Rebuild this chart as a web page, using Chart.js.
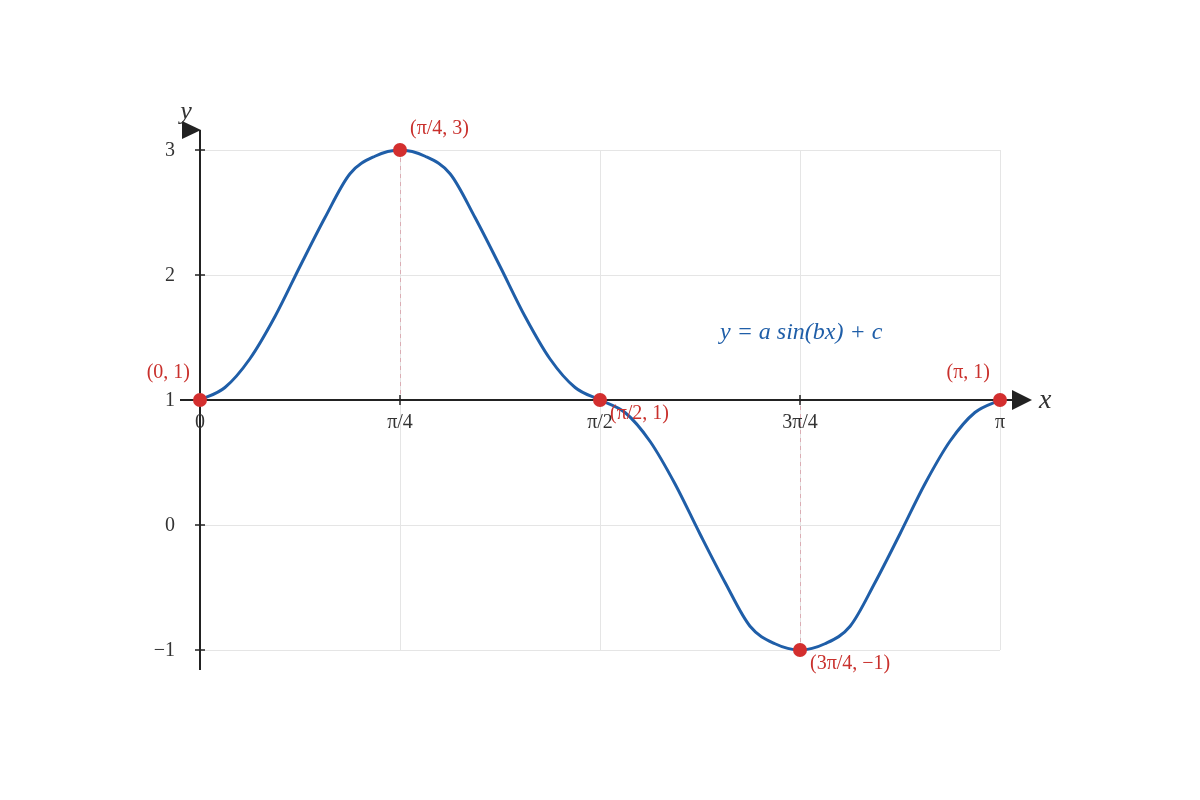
<!DOCTYPE html>
<html>
<head>
<meta charset="utf-8">
<script src="https://cdn.jsdelivr.net/npm/chart.js@4.4.1/dist/chart.umd.min.js"></script>
<style>
  html, body { margin: 0; padding: 0; background: #fff; }
  #wrap { width: 1200px; height: 800px; }
</style>
</head>
<body>
<div id="wrap"><canvas id="chart" width="1200" height="800"></canvas></div>
<script>
const PI = Math.PI;

// curve, one sample every pi/32
const curveX = [0, 0.098, 0.196, 0.295, 0.393, 0.491, 0.589, 0.687, 0.785,
                0.884, 0.982, 1.080, 1.178, 1.276, 1.374, 1.473, 1.571,
                1.669, 1.767, 1.865, 1.963, 2.062, 2.160, 2.258, 2.356,
                2.454, 2.553, 2.651, 2.749, 2.847, 2.945, 3.043, 3.142];
const curveY = [1, 1.10, 1.33, 1.67, 2.07, 2.46, 2.81, 2.95, 3,
                2.95, 2.81, 2.46, 2.07, 1.67, 1.33, 1.10, 1,
                0.90, 0.67, 0.33, -0.07, -0.46, -0.81, -0.95, -1,
                -0.95, -0.81, -0.46, -0.07, 0.33, 0.67, 0.90, 1];

// marked points
const keyX = [0, PI / 4, PI / 2, 3 * PI / 4, PI];
const keyY = [1, 3, 1, -1, 1];
const keyLabels = ['(0, 1)', '(π/4, 3)', '(π/2, 1)', '(3π/4, −1)', '(π, 1)'];

// axis ticks
const xTickValues = [0, PI / 4, PI / 2, 3 * PI / 4, PI];
const xTickLabels = ['0', 'π/4', 'π/2', '3π/4', 'π'];
const yTickValues = [-1, 0, 1, 2, 3];
const yTickLabels = ['−1', '0', '1', '2', '3'];

const equationText = 'y = a sin(bx) + c';

const SERIF = '"Liberation Serif", "DejaVu Serif", serif';
const BLUE = '#1f5ea8';
const RED = '#d32f2f';
const LABEL_RED = '#c9302c';
const AXIS = '#222';

// where each point label sits relative to its point
const labelPlacement = [
    { dx: -10, dy: -27, align: 'right' },
    { dx: 10, dy: -21, align: 'left' },
    { dx: 10, dy: 14, align: 'left' },
    { dx: 10, dy: 14, align: 'left' },
    { dx: -10, dy: -27, align: 'right' }
];

const axesPlugin = {
    id: 'mathAxes',
    beforeDatasetsDraw(chart) {
        const { ctx, chartArea: a, scales: { x, y } } = chart;
        const y1 = y.getPixelForValue(1);
        const x0 = x.getPixelForValue(0);
        ctx.save();

        // grid
        ctx.strokeStyle = '#e5e5e5';
        ctx.lineWidth = 1;
        yTickValues.forEach(v => {
            if (v === 1) return;
            const py = Math.round(y.getPixelForValue(v)) + 0.5;
            ctx.beginPath();
            ctx.moveTo(a.left, py);
            ctx.lineTo(a.right, py);
            ctx.stroke();
        });
        xTickValues.forEach(v => {
            if (v === 0) return;
            const px = Math.round(x.getPixelForValue(v)) + 0.5;
            ctx.beginPath();
            ctx.moveTo(px, a.top);
            ctx.lineTo(px, a.bottom);
            ctx.stroke();
        });

        // dashed drops from the peak and trough
        ctx.strokeStyle = 'rgba(200, 70, 90, 0.35)';
        ctx.setLineDash([4, 4]);
        [1, 3].forEach(i => {
            const px = Math.round(x.getPixelForValue(keyX[i])) + 0.5;
            ctx.beginPath();
            ctx.moveTo(px, y.getPixelForValue(keyY[i]));
            ctx.lineTo(px, y1);
            ctx.stroke();
        });
        ctx.setLineDash([]);

        // axes
        ctx.strokeStyle = AXIS;
        ctx.fillStyle = AXIS;
        ctx.lineWidth = 2;
        ctx.beginPath();
        ctx.moveTo(a.left - 20, y1);
        ctx.lineTo(a.right + 14, y1);
        ctx.moveTo(x0, a.bottom + 20);
        ctx.lineTo(x0, a.top - 20);
        ctx.stroke();

        ctx.beginPath();
        ctx.moveTo(a.right + 12, y1 - 10);
        ctx.lineTo(a.right + 32, y1);
        ctx.lineTo(a.right + 12, y1 + 10);
        ctx.closePath();
        ctx.fill();

        ctx.beginPath();
        ctx.moveTo(x0 - 18, a.top - 29);
        ctx.lineTo(x0 + 1, a.top - 20);
        ctx.lineTo(x0 - 18, a.top - 11);
        ctx.closePath();
        ctx.fill();

        // tick marks
        ctx.lineWidth = 1.5;
        ctx.beginPath();
        yTickValues.forEach(v => {
            const py = y.getPixelForValue(v);
            ctx.moveTo(x0 - 5, py);
            ctx.lineTo(x0 + 5, py);
        });
        xTickValues.slice(1, -1).forEach(v => {
            const px = x.getPixelForValue(v);
            ctx.moveTo(px, y1 - 5);
            ctx.lineTo(px, y1 + 5);
        });
        ctx.stroke();

        // tick labels
        ctx.fillStyle = '#333';
        ctx.font = '20px ' + SERIF;
        ctx.textBaseline = 'middle';
        ctx.textAlign = 'right';
        yTickValues.forEach((v, i) => {
            ctx.fillText(yTickLabels[i], x0 - 25, y.getPixelForValue(v) + 1);
        });
        ctx.textAlign = 'center';
        xTickValues.forEach((v, i) => {
            ctx.fillText(xTickLabels[i], x.getPixelForValue(v), y1 + 23);
        });

        // axis names
        ctx.fillStyle = '#333';
        ctx.font = 'italic 28px ' + SERIF;
        ctx.textAlign = 'left';
        ctx.fillText('x', a.right + 39, y1 + 1);
        ctx.font = 'italic 26px ' + SERIF;
        ctx.textAlign = 'center';
        ctx.fillText('y', x0 - 14, a.top - 38);
        ctx.restore();
    },
    afterDatasetsDraw(chart) {
        const { ctx, scales: { x, y } } = chart;
        ctx.save();
        ctx.font = '20px ' + SERIF;
        ctx.fillStyle = LABEL_RED;
        ctx.textBaseline = 'middle';
        keyLabels.forEach((t, i) => {
            const p = labelPlacement[i];
            ctx.textAlign = p.align;
            ctx.fillText(t, x.getPixelForValue(keyX[i]) + p.dx, y.getPixelForValue(keyY[i]) + p.dy);
        });

        ctx.fillStyle = BLUE;
        ctx.font = 'italic 24px ' + SERIF;
        ctx.textAlign = 'left';
        ctx.fillText(equationText, 720, 333);
        ctx.restore();
    }
};

new Chart(document.getElementById('chart'), {
    type: 'scatter',
    data: {
        datasets: [
            {
                label: 'curve',
                data: curveX.map((v, i) => ({ x: v, y: curveY[i] })),
                showLine: true,
                borderColor: BLUE,
                borderWidth: 3,
                pointRadius: 0,
                cubicInterpolationMode: 'monotone',
                clip: false,
                order: 2
            },
            {
                label: 'points',
                data: keyX.map((v, i) => ({ x: v, y: keyY[i] })),
                pointRadius: 7,
                pointBackgroundColor: RED,
                pointBorderWidth: 0,
                clip: false,
                order: 1
            }
        ]
    },
    options: {
        responsive: false,
        animation: false,
        devicePixelRatio: 1,
        layout: { padding: { left: 200, right: 200, top: 150, bottom: 150 } },
        plugins: {
            legend: { display: false },
            tooltip: { enabled: false }
        },
        scales: {
            x: { type: 'linear', min: 0, max: PI, display: false },
            y: { type: 'linear', min: -1, max: 3, display: false }
        }
    },
    plugins: [axesPlugin]
});
</script>
</body>
</html>
